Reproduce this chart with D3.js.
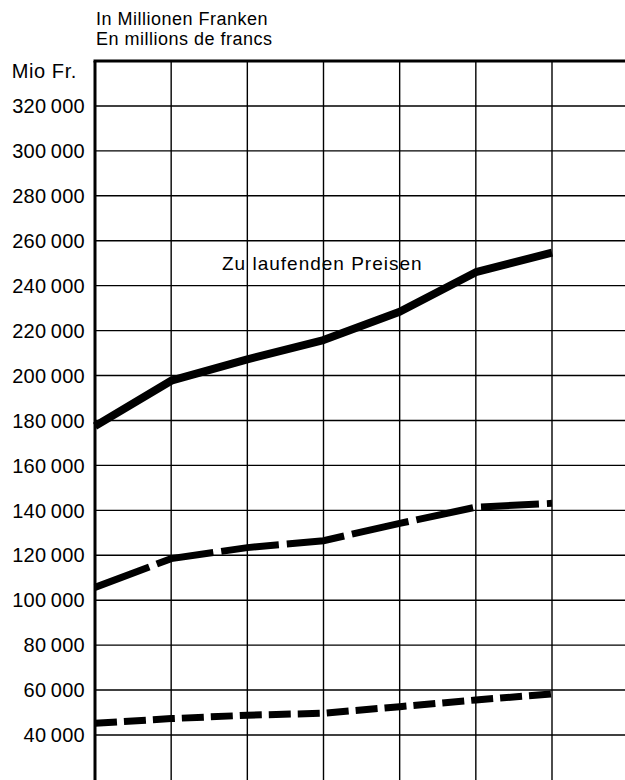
<!DOCTYPE html>
<html>
<head>
<meta charset="utf-8">
<script src="https://cdn.jsdelivr.net/npm/d3@7"></script>
<style>
  body { margin: 0; background: #fff; }
  svg text { font-family: "Liberation Sans", Arial, Helvetica, sans-serif; fill: #000; }
</style>
</head>
<body>
<div id="chart"></div>
<script>
// periods along x (no labels printed on the chart)
var periods = [0, 1, 2, 3, 4, 5, 6];

// values in Mio Fr.
var currentPrices = [177500, 197700, 207200, 215800, 228400, 246000, 254700];
var longDashSeries = [105700, 118500, 123400, 126500, 134200, 141400, 143100];
var shortDashSeries = [45200, 47300, 48800, 49700, 52600, 55600, 58300];

var yTicks = [40000, 60000, 80000, 100000, 120000, 140000, 160000, 180000,
              200000, 220000, 240000, 260000, 280000, 300000, 320000];

var titleLines = ["In Millionen Franken", "En millions de francs"];
var unitLabel = "Mio Fr.";
var seriesLabel = "Zu laufenden Preisen";

var width = 625, height = 780;
var plotLeft = 95, plotTop = 61, plotRight = 625, plotBottom = 780;

var svg = d3.select("#chart").append("svg")
    .attr("width", width)
    .attr("height", height);

// scales
var x = d3.scaleLinear().domain([0, 6]).range([plotLeft, 552]);
var y = d3.scaleLinear().domain([40000, 340000]).range([735, plotTop]);

// horizontal grid
svg.append("g")
    .selectAll("line")
    .data(yTicks)
    .join("line")
    .attr("x1", plotLeft)
    .attr("x2", plotRight)
    .attr("y1", d => y(d))
    .attr("y2", d => y(d))
    .attr("stroke", "#000")
    .attr("stroke-width", 1.4);

// vertical grid
svg.append("g")
    .selectAll("line")
    .data(periods.slice(1))
    .join("line")
    .attr("x1", d => x(d))
    .attr("x2", d => x(d))
    .attr("y1", plotTop)
    .attr("y2", plotBottom)
    .attr("stroke", "#000")
    .attr("stroke-width", 1.4);

// frame: top and left
svg.append("line")
    .attr("x1", plotLeft - 1.5).attr("x2", plotRight)
    .attr("y1", y(340000)).attr("y2", y(340000))
    .attr("stroke", "#000").attr("stroke-width", 3);
svg.append("line")
    .attr("x1", plotLeft).attr("x2", plotLeft)
    .attr("y1", plotTop).attr("y2", plotBottom)
    .attr("stroke", "#000").attr("stroke-width", 3);

// y tick labels
var fmt = d => d3.format(",")(d).replace(/,/g, "\u2009");
svg.append("g")
    .selectAll("text")
    .data(yTicks)
    .join("text")
    .attr("x", 85)
    .attr("y", d => y(d))
    .attr("dy", "0.36em")
    .attr("text-anchor", "end")
    .attr("font-size", 20)
    .attr("letter-spacing", 0.3)
    .text(fmt);

svg.append("text")
    .attr("x", 77)
    .attr("y", 78)
    .attr("text-anchor", "end")
    .attr("font-size", 20)
    .attr("letter-spacing", 0.6)
    .text(unitLabel);

// title
svg.append("g")
    .selectAll("text")
    .data(titleLines)
    .join("text")
    .attr("x", 96)
    .attr("y", (d, i) => 25 + i * 20)
    .attr("font-size", 18)
    .attr("letter-spacing", 0.5)
    .text(d => d);

// lines
var line = d3.line()
    .x((d, i) => x(periods[i]))
    .y(d => y(d));

svg.append("path")
    .datum(currentPrices)
    .attr("d", line)
    .attr("fill", "none")
    .attr("stroke", "#000")
    .attr("stroke-width", 8)
    .attr("stroke-linejoin", "round");

svg.append("path")
    .datum(longDashSeries)
    .attr("d", line)
    .attr("fill", "none")
    .attr("stroke", "#000")
    .attr("stroke-width", 7)
    .attr("stroke-dasharray", "58 8");

svg.append("path")
    .datum(shortDashSeries)
    .attr("d", line)
    .attr("fill", "none")
    .attr("stroke", "#000")
    .attr("stroke-width", 7)
    .attr("stroke-dasharray", "22 7");

// label on the current prices line
svg.append("text")
    .attr("x", 222)
    .attr("y", 270)
    .attr("font-size", 19)
    .attr("letter-spacing", 1)
    .text(seriesLabel);
</script>
</body>
</html>
